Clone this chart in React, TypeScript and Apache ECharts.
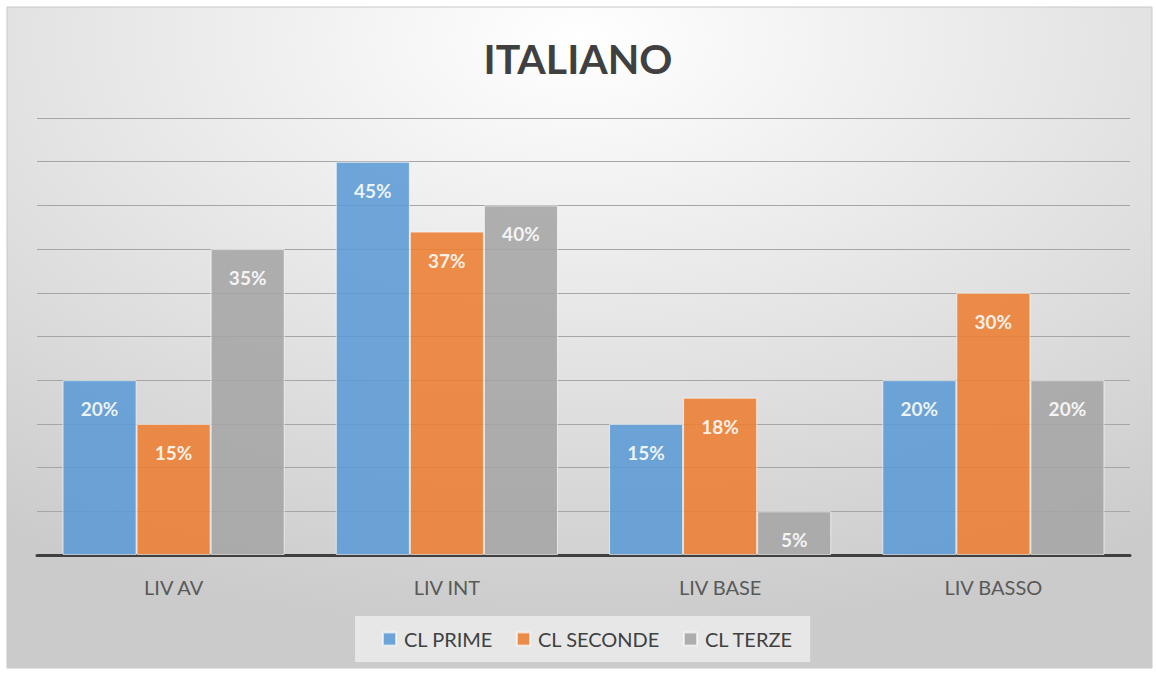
import React, { useEffect, useRef } from "react";
import * as echarts from "echarts";

const categories = ["LIV AV", "LIV INT", "LIV BASE", "LIV BASSO"];
const seriesNames = ["CL PRIME", "CL SECONDE", "CL TERZE"];
const clPrime = [20, 45, 15, 20];
const clSeconde = [15, 37, 18, 30];
const clTerze = [35, 40, 5, 20];
const colors = ["#5b9bd5", "#ed7d31", "#a5a5a5"];
const FONT = "Lato, 'Open Sans', sans-serif";

export default function App() {
  const ref = useRef<HTMLDivElement>(null);
  useEffect(() => {
    const chart = echarts.init(ref.current!, null, { renderer: "svg" });
    const values = [clPrime, clSeconde, clTerze];
    chart.setOption({
      animation: false,
      graphic: [
        {
          type: "rect",
          z: -10,
          shape: { x: 7, y: 7, width: 1145, height: 661 },
          style: {
            fill: new echarts.graphic.RadialGradient(0.5, 0.05, 0.9, [
              { offset: 0, color: "#ffffff" },
              { offset: 1, color: "#cbcbcb" },
            ]),
            stroke: "#c8c8c8",
            lineWidth: 1,
          },
        },
      ],
      title: {
        text: "ITALIANO",
        left: "center",
        top: 33,
        textStyle: { fontFamily: FONT, fontSize: 41, fontWeight: "bold", color: "#404040" },
      },
      legend: {
        data: seriesNames,
        bottom: 12,
        left: 355,
        itemWidth: 13,
        itemHeight: 13,
        itemGap: 23,
        icon: "rect",
        padding: [13, 17, 13, 27],
        backgroundColor: "rgba(234,234,234,0.9)",
        textStyle: { fontFamily: FONT, fontSize: 20, color: "#404040", padding: [0, 0, 0, 3] },
      },
      grid: { left: 37, right: 26, top: 118, bottom: 119, containLabel: false },
      xAxis: {
        type: "category",
        data: categories,
        axisLine: { lineStyle: { color: "#404040", width: 3 } },
        axisTick: { show: false },
        axisLabel: { fontFamily: FONT, fontSize: 20, color: "#595959", margin: 22 },
      },
      yAxis: {
        type: "value",
        min: 0,
        max: 50,
        interval: 5,
        axisLine: { show: false },
        axisTick: { show: false },
        axisLabel: { show: false },
        splitLine: { lineStyle: { color: "#a6a6a6", width: 1 } },
      },
      series: seriesNames.map((name, i) => ({
        name,
        type: "bar",
        data: values[i],
        barGap: "0%",
        barCategoryGap: "18.7%",
        itemStyle: { color: colors[i], opacity: 0.88, borderColor: "rgba(255,255,255,0.7)", borderWidth: 1 },
        label: {
          show: true,
          position: "insideTop",
          distance: 19,
          formatter: "{c}%",
          fontFamily: FONT,
          fontSize: 19,
          fontWeight: "bold",
          color: "#ffffff",
        },
      })),
    });
    return () => chart.dispose();
  }, []);
  return (
    <div
      ref={ref}
      style={{ position: "absolute", left: 0, top: 0, width: 1156, height: 674 }}
    />
  );
}
